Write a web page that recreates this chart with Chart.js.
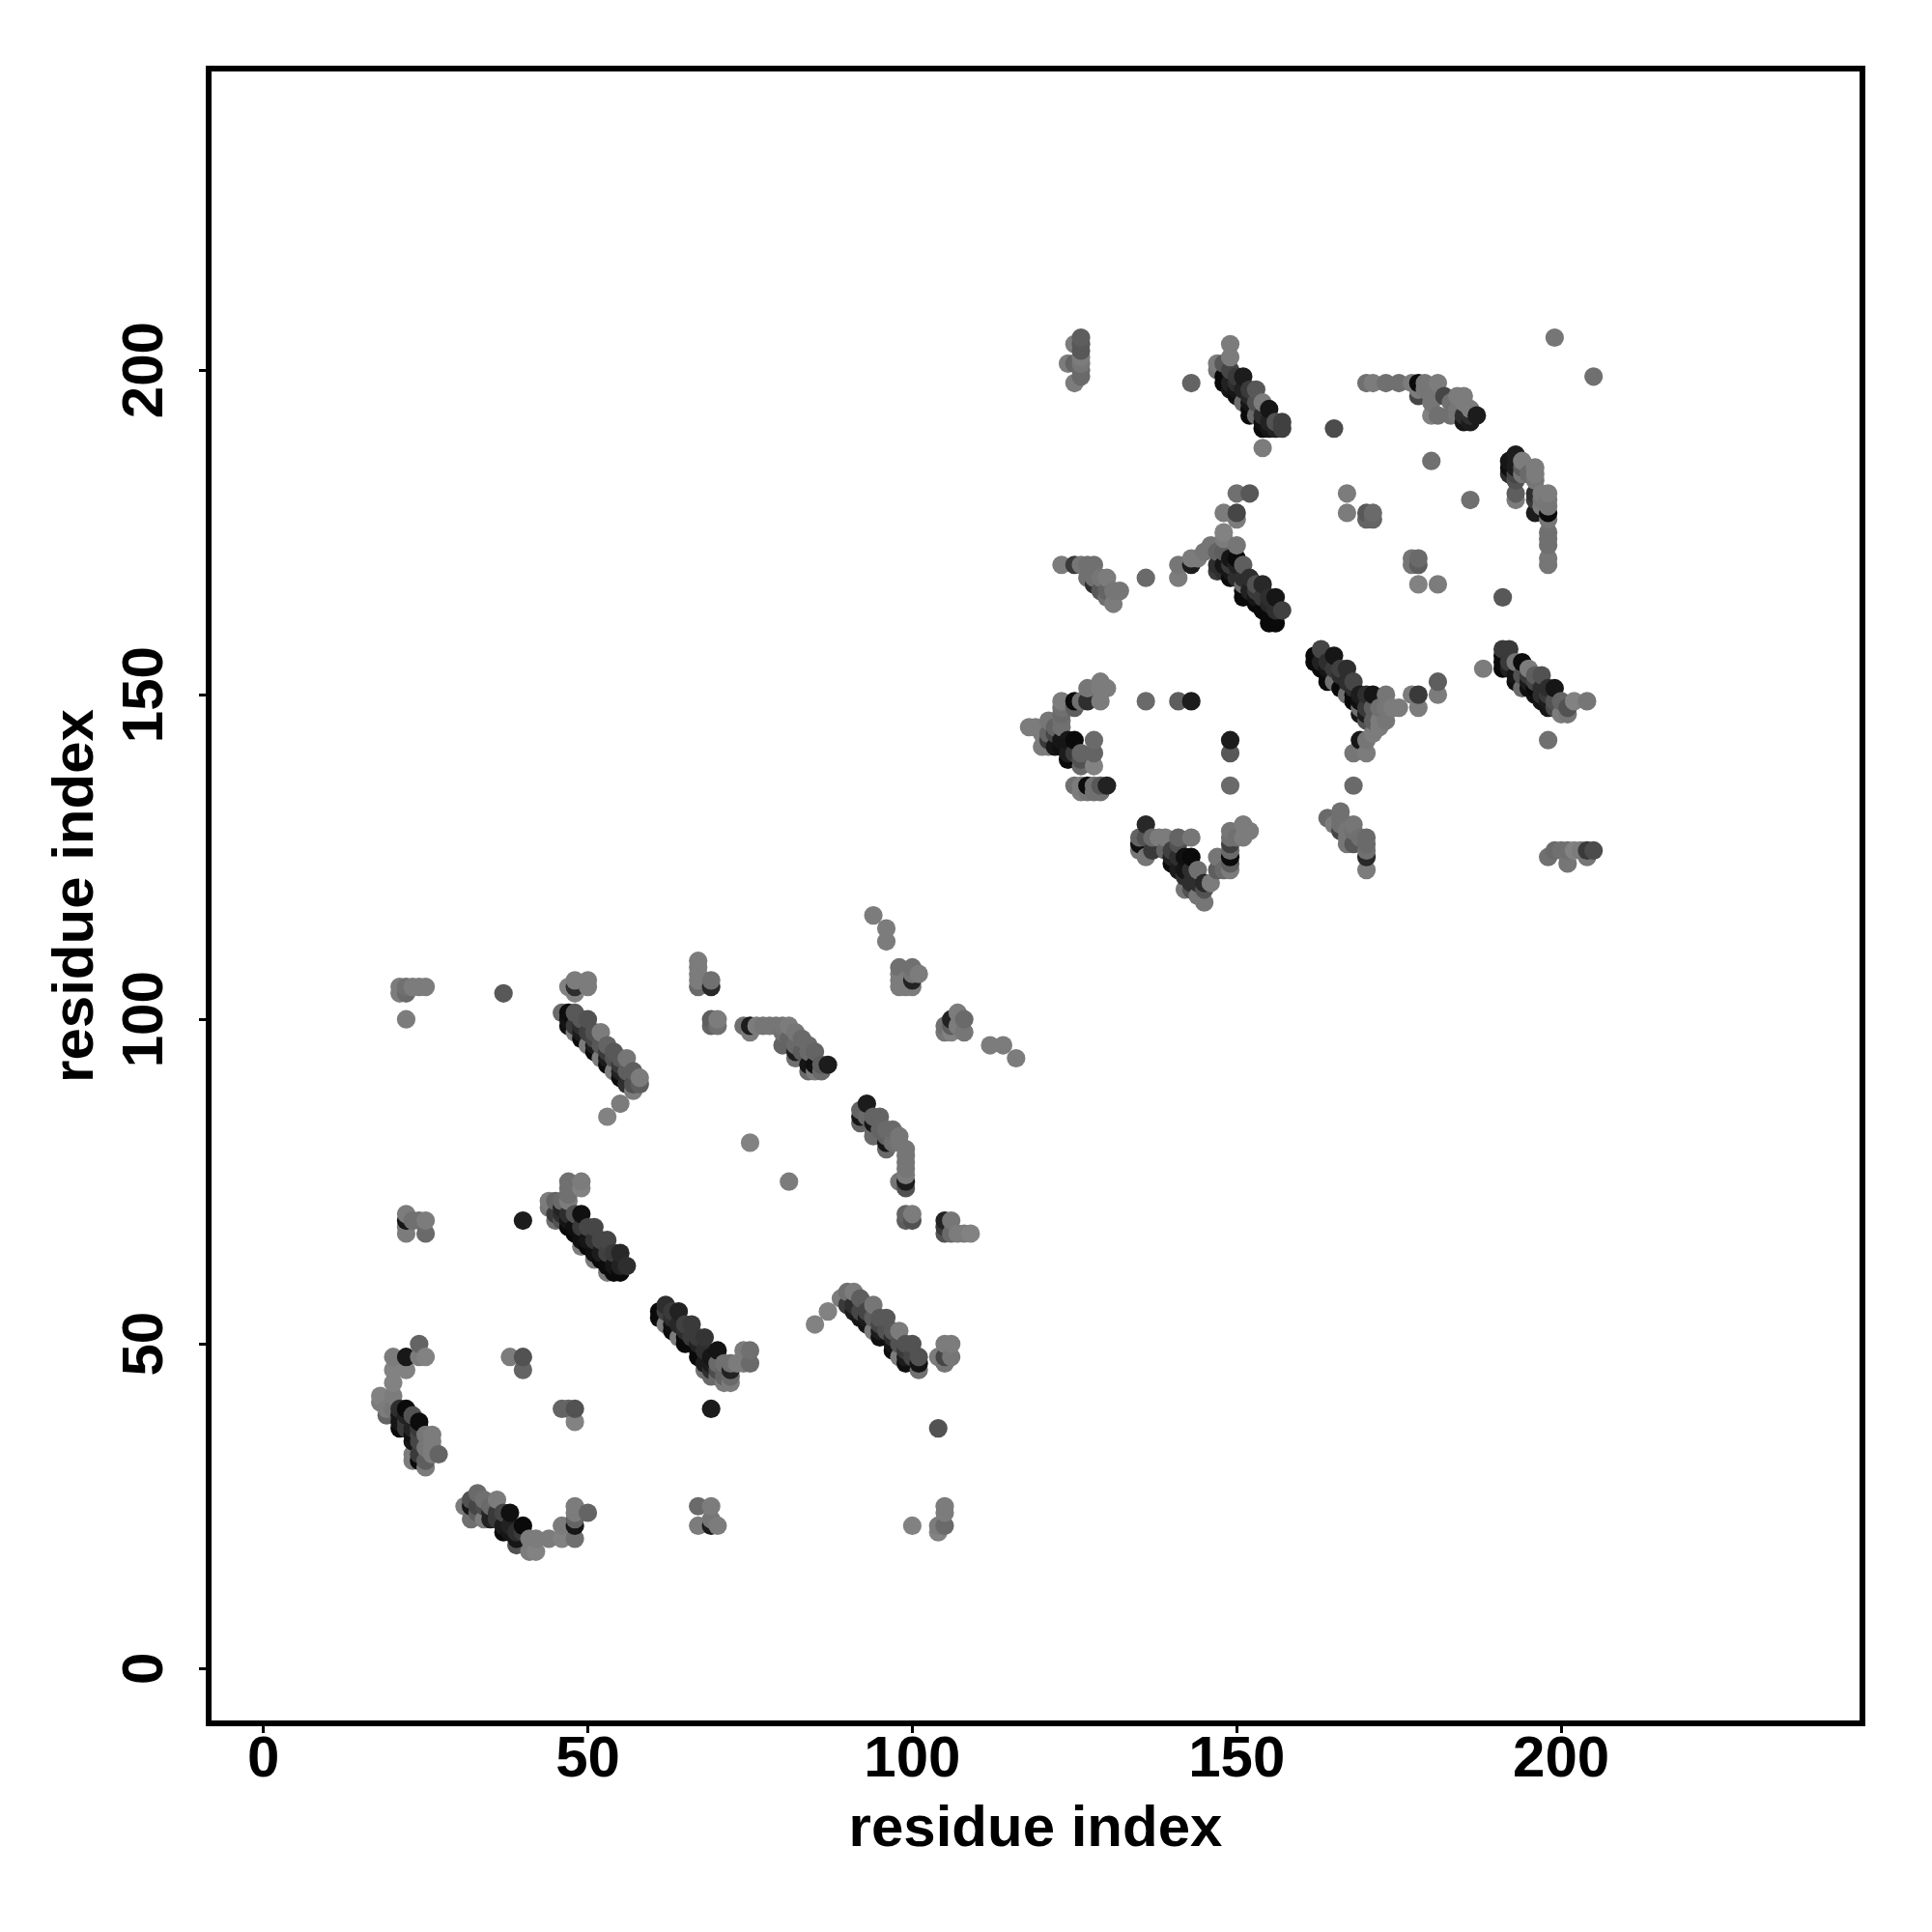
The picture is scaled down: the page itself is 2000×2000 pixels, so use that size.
<!DOCTYPE html>
<html>
<head>
<meta charset="utf-8">
<script src="https://cdn.jsdelivr.net/npm/chart.js@4"></script>
<style>
	html, body { margin: 0; padding: 0; background: #fff; }
	#wrap { width: 2000px; height: 2000px; }
</style>
</head>
<body>
<div id="wrap"><canvas id="chartContainer" width="2000" height="2000"></canvas></div>
<script>
// each contact is [residue i, residue j, score 0..100]
const leftArc = [[18,42,0],[18,41,5],[19,40,5],[19,39,25],[20,48,5],[20,46,0],[20,44,0],[20,42,5],[20,40,10],[21,40,70],[21,39,90],[21,38,90],[21,37,100],[22,48,88],[22,46,0],[22,40,100],[22,39,80],[22,38,60],[22,37,60],[23,39,40],[23,37,80],[23,36,95],[23,35,90],[23,33,5],[23,32,5],[24,50,25],[24,48,5],[24,38,98],[24,37,60],[24,36,50],[24,35,50],[24,33,60],[24,32,100],[25,48,0],[25,36,10],[25,34,10],[25,32,30],[25,31,5],[26,36,5],[26,35,5],[26,34,5],[26,33,5],[27,33,25]];
const bottomArc = [[31,25,5],[32,26,40],[32,25,90],[32,23,15],[33,27,20],[33,25,50],[33,24,30],[34,26,15],[34,25,45],[34,23,5],[35,25,20],[35,24,80],[35,23,80],[36,26,5],[36,24,60],[36,23,60],[37,24,50],[37,22,85],[37,21,100],[38,24,95],[38,22,80],[38,21,90],[39,21,70],[39,20,90],[39,19,40],[40,22,100],[40,21,60],[41,20,5],[41,18,5],[42,20,5],[42,18,0],[44,20,5],[46,22,5],[46,20,0],[48,25,5],[48,24,5],[48,23,25],[48,22,90],[48,20,15],[50,24,25]];
const smallLow = [[22,70,5],[22,69,90],[22,68,5],[22,67,5],[23,69,15],[24,69,15],[25,69,5],[25,67,20],[38,48,5],[40,69,85],[40,48,40],[40,46,25],[46,40,25],[47,40,25],[48,40,40],[48,38,0],[67,25,20],[67,22,5],[69,40,85],[69,25,5],[69,23,10],[69,22,85],[70,22,5],[85,53,0],[87,55,0],[100,22,0],[104,48,5],[104,37,40],[104,22,5],[104,21,0],[105,50,5],[105,48,50],[105,47,10],[105,25,5],[105,24,5],[105,22,20],[106,50,5],[106,48,10],[75,81,0],[81,75,5],[94,116,5],[96,114,5],[96,112,5],[112,96,5],[114,96,5],[116,94,5]];
const sheetE = [[61,55,100],[61,54,100],[62,56,70],[62,55,55],[62,53,5],[63,55,60],[63,54,70],[63,53,95],[63,52,100],[64,55,80],[64,53,75],[64,51,5],[65,53,55],[65,52,70],[65,51,100],[65,50,100],[66,53,60],[66,51,60],[67,51,60],[67,50,80],[67,49,100],[67,48,100],[68,51,65],[68,49,70],[68,47,85],[68,46,15],[69,48,90],[69,47,85],[69,46,70],[69,45,20],[70,49,92],[70,47,20],[70,46,45],[70,45,20],[71,47,15],[71,46,25],[71,45,25],[71,44,5],[72,47,15],[72,46,80],[72,45,20],[72,44,5],[73,47,5],[74,49,5],[74,47,5],[75,49,15],[75,47,20]];
const sheetF = [[89,57,5],[90,58,15],[90,56,60],[91,58,5],[91,56,70],[91,55,85],[92,57,30],[92,55,50],[92,54,90],[93,55,50],[93,54,85],[93,53,92],[94,56,10],[94,54,30],[94,52,5],[95,54,35],[95,53,50],[95,52,85],[95,51,95],[96,54,35],[96,52,40],[97,52,35],[97,51,70],[97,50,90],[97,49,98],[98,52,5],[98,50,40],[98,48,5],[99,50,40],[99,49,60],[99,48,85],[99,47,95],[100,50,40],[100,48,50],[101,48,40],[101,47,92],[101,46,15]];
const sheetG = [[46,101,20],[47,101,98],[47,100,92],[47,99,95],[48,101,35],[48,99,60],[48,98,5],[49,100,35],[49,99,70],[49,98,85],[49,97,100],[50,100,40],[50,98,55],[50,96,5],[51,98,40],[51,97,50],[51,96,85],[51,95,100],[52,98,5],[52,96,35],[52,94,5],[53,96,25],[53,95,60],[53,94,85],[53,93,98],[54,95,35],[54,94,40],[54,92,5],[55,94,35],[55,93,60],[55,92,80],[55,91,98],[56,94,10],[56,92,30],[56,90,70],[57,92,30],[57,90,40],[57,89,5],[58,91,5],[58,90,30],[55,87,5],[53,85,0]];
const sheetH = [[44,72,5],[44,71,10],[45,72,25],[45,70,60],[45,69,15],[46,72,20],[46,71,80],[46,70,70],[46,69,40],[47,75,15],[47,74,15],[47,73,15],[47,72,5],[47,70,70],[47,69,90],[47,68,100],[48,70,40],[48,68,95],[48,67,100],[49,75,5],[49,74,0],[49,70,95],[49,68,60],[49,66,95],[49,65,5],[50,68,50],[50,66,90],[50,65,100],[51,68,50],[51,66,65],[51,64,95],[51,63,5],[52,66,50],[52,64,85],[52,63,100],[53,66,50],[53,64,55],[53,62,98],[53,61,5],[54,64,60],[54,62,90],[54,61,100],[55,64,75],[55,62,80],[55,61,100],[56,62,70]];
const upperLeft = [[21,104,5],[21,105,5],[22,105,15],[22,104,20],[22,100,5],[23,105,5],[24,105,5],[25,105,5],[37,104,35],[47,105,0],[48,106,5],[48,105,70],[48,104,0],[50,106,5],[50,105,5],[67,109,5],[67,108,5],[67,107,5],[67,106,5],[67,105,20],[69,106,15],[69,105,75],[69,100,30],[69,99,25],[70,100,5],[70,99,15]];
const sheetI = [[74,99,15],[75,99,85],[75,98,5],[76,99,5],[77,99,10],[78,99,10],[79,99,10],[80,99,10],[80,98,15],[80,96,25],[81,99,5],[81,97,25],[82,98,10],[82,96,20],[82,95,85],[82,94,15],[83,97,20],[83,95,30],[84,96,20],[84,95,20],[84,93,90],[84,92,20],[85,95,25],[85,93,95],[85,92,5],[86,93,30],[86,92,20],[87,93,85]];
const sheetJ = [[92,86,25],[92,85,90],[92,84,25],[93,87,85],[93,85,20],[94,85,25],[94,84,90],[94,83,20],[94,82,20],[95,85,25],[95,83,25],[96,83,20],[96,82,25],[96,81,90],[96,80,20],[97,83,20],[97,81,15],[98,82,10],[98,81,10],[98,75,10],[99,80,10],[99,79,10],[99,78,10],[99,77,10],[99,76,5],[99,75,85],[99,74,40],[99,70,25],[99,69,30],[100,70,5],[100,69,40],[105,69,80],[105,68,60],[105,67,40],[106,69,10],[106,67,20],[107,67,5],[108,67,5],[109,67,0]];
const upperMid = [[98,108,15],[98,107,5],[98,106,5],[98,105,5],[99,106,5],[99,105,5],[100,108,15],[100,107,10],[100,106,80],[100,105,5],[101,107,5],[105,99,15],[105,98,10],[106,100,80],[106,99,30],[106,98,0],[107,101,5],[107,99,5],[108,100,20],[108,98,10]];
const clusterQ = [[118,145,5],[119,145,5],[120,144,5],[120,142,5],[121,146,10],[121,144,25],[121,143,60],[121,142,5],[122,145,25],[122,144,50],[122,142,90],[123,149,5],[123,148,15],[123,147,20],[123,146,15],[123,145,15],[123,143,90],[123,142,95],[124,143,90],[124,141,85],[124,140,100],[125,149,100],[125,148,30],[125,143,100],[125,141,60],[125,136,15],[126,149,15],[126,141,25],[126,140,40],[126,139,20],[126,136,5],[126,135,5],[127,151,10],[127,149,70],[127,136,98],[127,135,10],[128,143,20],[128,141,25],[128,139,0],[128,136,15],[128,135,15],[129,152,5],[129,151,5],[129,149,5],[129,136,35],[129,135,15],[130,151,5],[130,136,80]];
const clusterR = [[135,128,25],[135,127,95],[135,126,10],[136,130,75],[136,128,40],[136,125,10],[137,128,20],[137,126,60],[138,128,5],[139,128,5],[139,126,25],[140,126,55],[140,125,80],[140,124,100],[141,128,25],[141,127,40],[141,125,70],[141,123,85],[142,125,95],[142,123,90],[142,122,70],[142,120,10],[143,128,10],[143,125,100],[143,123,70],[143,121,70],[143,120,40],[144,123,15],[144,121,70],[144,119,10],[145,121,75],[145,120,40],[145,118,10],[146,121,5],[147,125,10],[147,123,30],[148,123,20],[149,129,10],[149,128,15],[149,127,55],[149,126,20],[149,125,100],[149,124,30],[149,123,5],[150,128,15],[151,130,5],[151,128,5],[152,129,5]];
const clusterS = [[164,131,20],[165,130,5],[166,132,15],[166,131,15],[166,130,15],[166,129,50],[167,129,10],[167,128,10],[167,127,10],[168,130,10],[168,129,15],[168,127,35],[169,128,15],[170,128,20],[170,127,20],[170,126,15],[170,125,75],[170,123,5]];
const smallUp = [[136,168,20],[136,149,20],[141,149,30],[143,198,25],[143,149,85],[149,143,85],[149,141,35],[149,136,20],[165,191,45],[168,136,20],[180,186,15],[186,180,15],[191,165,35],[199,205,10],[205,199,15],[167,181,5],[167,178,5],[170,178,35],[170,177,25],[171,178,20],[171,177,25],[177,171,10],[177,170,10],[178,171,20],[178,170,30],[178,167,0],[181,167,5],[177,150,5],[178,150,60],[178,148,5],[181,152,30],[181,150,5],[188,154,5],[198,143,15],[198,125,15],[199,126,20],[200,126,15],[201,126,15],[201,124,10],[202,126,0],[203,126,5],[204,126,60],[204,125,10],[205,126,45]];
const clusterK = [[124,201,5],[125,204,5],[125,201,25],[125,198,5],[126,205,30],[126,204,35],[126,203,35],[126,202,5],[126,201,10],[126,200,20],[126,199,20]];
const sheetL = [[147,201,5],[147,200,10],[148,201,35],[148,199,100],[148,198,100],[149,204,5],[149,202,5],[149,200,50],[149,198,80],[149,197,90],[150,199,60],[150,198,70],[150,197,90],[150,196,95],[151,199,85],[151,197,80],[151,195,20],[152,197,60],[152,196,75],[152,195,90],[152,194,100],[152,193,100],[153,197,35],[153,195,40],[153,193,20],[154,195,5],[154,193,70],[154,192,95],[154,191,100],[155,194,90],[155,192,80],[155,191,90],[156,192,40],[156,191,80],[157,192,55],[157,191,55],[154,188,5]];
const sheetM = [[170,198,15],[171,198,5],[173,198,15],[175,198,15],[177,198,5],[178,198,100],[178,197,5],[178,196,50],[179,198,10],[179,197,10],[180,196,10],[180,195,10],[180,193,0],[181,198,5],[181,196,10],[181,193,15],[182,196,50],[183,195,15],[183,193,15],[184,196,5],[184,194,10],[184,193,10],[185,196,5],[185,195,5],[185,193,70],[185,192,90],[186,194,5],[186,193,70],[186,192,85],[187,193,85]];
const sheetO = [[123,170,5],[125,170,60],[126,170,10],[127,170,15],[127,168,15],[128,170,15],[128,168,15],[128,167,70],[129,168,10],[129,166,35],[130,168,5],[130,166,25],[130,165,15],[131,166,10],[131,164,5],[132,166,10]];
const sheetN = [[141,170,10],[141,168,5],[143,171,5],[143,170,85],[144,171,5],[145,172,10],[146,173,10],[147,172,25],[147,170,70],[147,169,60],[148,175,0],[148,174,5],[148,178,5],[148,172,30],[148,170,90],[148,169,70],[149,171,90],[149,170,60],[149,169,90],[149,168,100],[150,181,15],[150,178,50],[150,177,5],[150,173,10],[150,171,100],[150,170,80],[150,168,70],[151,170,30],[151,168,70],[151,167,20],[151,166,100],[151,165,100],[152,181,35],[152,168,70],[152,166,80],[153,167,40],[153,166,60],[153,165,90],[153,164,100],[154,167,75],[154,165,60],[154,163,100],[155,165,70],[155,164,75],[155,162,100],[155,161,100],[156,165,90],[156,163,70],[156,161,100],[157,163,55]];
const sheetT = [[162,156,100],[162,155,100],[163,157,50],[163,155,80],[163,154,100],[164,155,70],[164,154,90],[164,153,100],[164,152,100],[165,156,90],[165,154,60],[165,152,15],[166,154,55],[166,153,70],[166,151,100],[167,154,70],[167,152,70],[167,150,15],[168,152,50],[168,151,70],[168,150,100],[168,149,100],[168,141,10],[169,150,85],[169,149,95],[169,148,15],[169,143,90],[169,147,90],[170,150,70],[170,148,60],[170,147,85],[170,146,40],[170,143,10],[170,141,5],[171,150,90],[171,148,30],[171,146,30],[171,144,5],[172,148,15],[172,146,5],[172,145,5],[173,150,10],[173,148,10],[173,146,10],[174,148,5],[175,148,5]];
const sheetU = [[191,156,100],[191,155,100],[191,154,100],[191,157,60],[192,157,60],[192,155,60],[192,154,80],[193,155,10],[193,153,90],[193,152,95],[194,155,98],[194,153,40],[194,151,20],[195,154,5],[195,153,60],[195,152,85],[195,151,95],[196,153,30],[196,152,50],[196,151,100],[196,150,95],[197,153,40],[197,151,70],[197,150,70],[197,149,90],[198,151,70],[198,150,60],[198,149,85],[198,148,90],[199,151,90],[199,149,40],[199,148,50],[200,149,25],[200,147,5],[201,148,40],[201,147,10],[202,149,0],[204,149,10]];
const sheetP = [[192,186,90],[192,185,95],[192,184,70],[193,187,85],[193,186,85],[193,185,85],[193,184,50],[193,183,40],[193,181,30],[193,180,5],[194,186,5],[194,185,30],[194,184,10],[195,184,20],[196,185,5],[196,184,5],[196,183,10],[196,181,70],[196,180,60],[196,178,85],[197,181,5],[197,180,10],[197,179,5],[198,181,5],[198,180,10],[198,179,10],[198,178,100],[198,177,10],[198,175,15],[198,174,15],[198,173,15],[198,171,10],[198,170,10]];

const axisTicks = [0, 50, 100, 150, 200];
const axisMin = -8.44;
const axisMax = 246.44;
const xTitle = "residue index";
const yTitle = "residue index";

let contacts = [].concat(leftArc, bottomArc, smallLow, sheetE, sheetF, sheetG, sheetH, upperLeft, sheetI, sheetJ, upperMid, clusterQ, clusterR, clusterS, smallUp, clusterK, sheetL, sheetM, sheetO, sheetN, sheetT, sheetU, sheetP);
// draw column by column, same as the original plot order
contacts.sort(function (a, b) { return a[0] - b[0] || a[1] - b[1]; });

function scoreColor(s) {
	let g = Math.round(130 - 1.2 * s);
	return "rgb(" + g + "," + g + "," + g + ")";
}

const frame = {
	id: "frame",
	afterDatasetsDraw(chart) {
		const a = chart.chartArea, c = chart.ctx;
		c.save();
		c.strokeStyle = "#000";
		c.lineWidth = 6;
		c.strokeRect(a.left, a.top, a.right - a.left, a.bottom - a.top);
		c.restore();
	}
};

const labelFont = { family: "Liberation Sans", weight: "bold", size: 60 };

new Chart(document.getElementById("chartContainer"), {
	type: "scatter",
	data: {
		datasets: [{
			data: contacts.map(function (p) { return { x: p[0], y: p[1] }; }),
			pointBackgroundColor: contacts.map(function (p) { return scoreColor(p[2]); }),
			pointBorderWidth: 0,
			pointRadius: 9.6,
			showLine: false
		}]
	},
	plugins: [frame],
	options: {
		responsive: false,
		animation: false,
		layout: { padding: { top: 71, right: 72, left: 0, bottom: 0 } },
		plugins: { legend: { display: false }, tooltip: { enabled: false } },
		scales: {
			x: {
				type: "linear",
				min: axisMin,
				max: axisMax,
				afterBuildTicks: function (s) { s.ticks = axisTicks.map(function (v) { return { value: v }; }); },
				afterFit: function (s) { s.height = 216; },
				border: { display: false },
				grid: { drawOnChartArea: false, drawTicks: true, tickLength: 10, tickColor: "#000", tickWidth: 3 },
				ticks: { color: "#000", font: labelFont, padding: -8, maxRotation: 0 },
				title: { display: true, text: xTitle, color: "#000", font: labelFont, padding: { top: 0, bottom: 70 } }
			},
			y: {
				type: "linear",
				min: axisMin,
				max: axisMax,
				afterBuildTicks: function (s) { s.ticks = axisTicks.map(function (v) { return { value: v }; }); },
				afterFit: function (s) { s.width = 216; },
				border: { display: false },
				grid: { drawOnChartArea: false, drawTicks: true, tickLength: 10, tickColor: "#000", tickWidth: 3 },
				ticks: { color: "#000", font: labelFont, padding: 4, minRotation: 90, maxRotation: 90, crossAlign: "center" },
				title: { display: true, text: yTitle, color: "#000", font: labelFont, padding: { top: 43, bottom: 0 } }
			}
		}
	}
});
</script>
</body>
</html>
